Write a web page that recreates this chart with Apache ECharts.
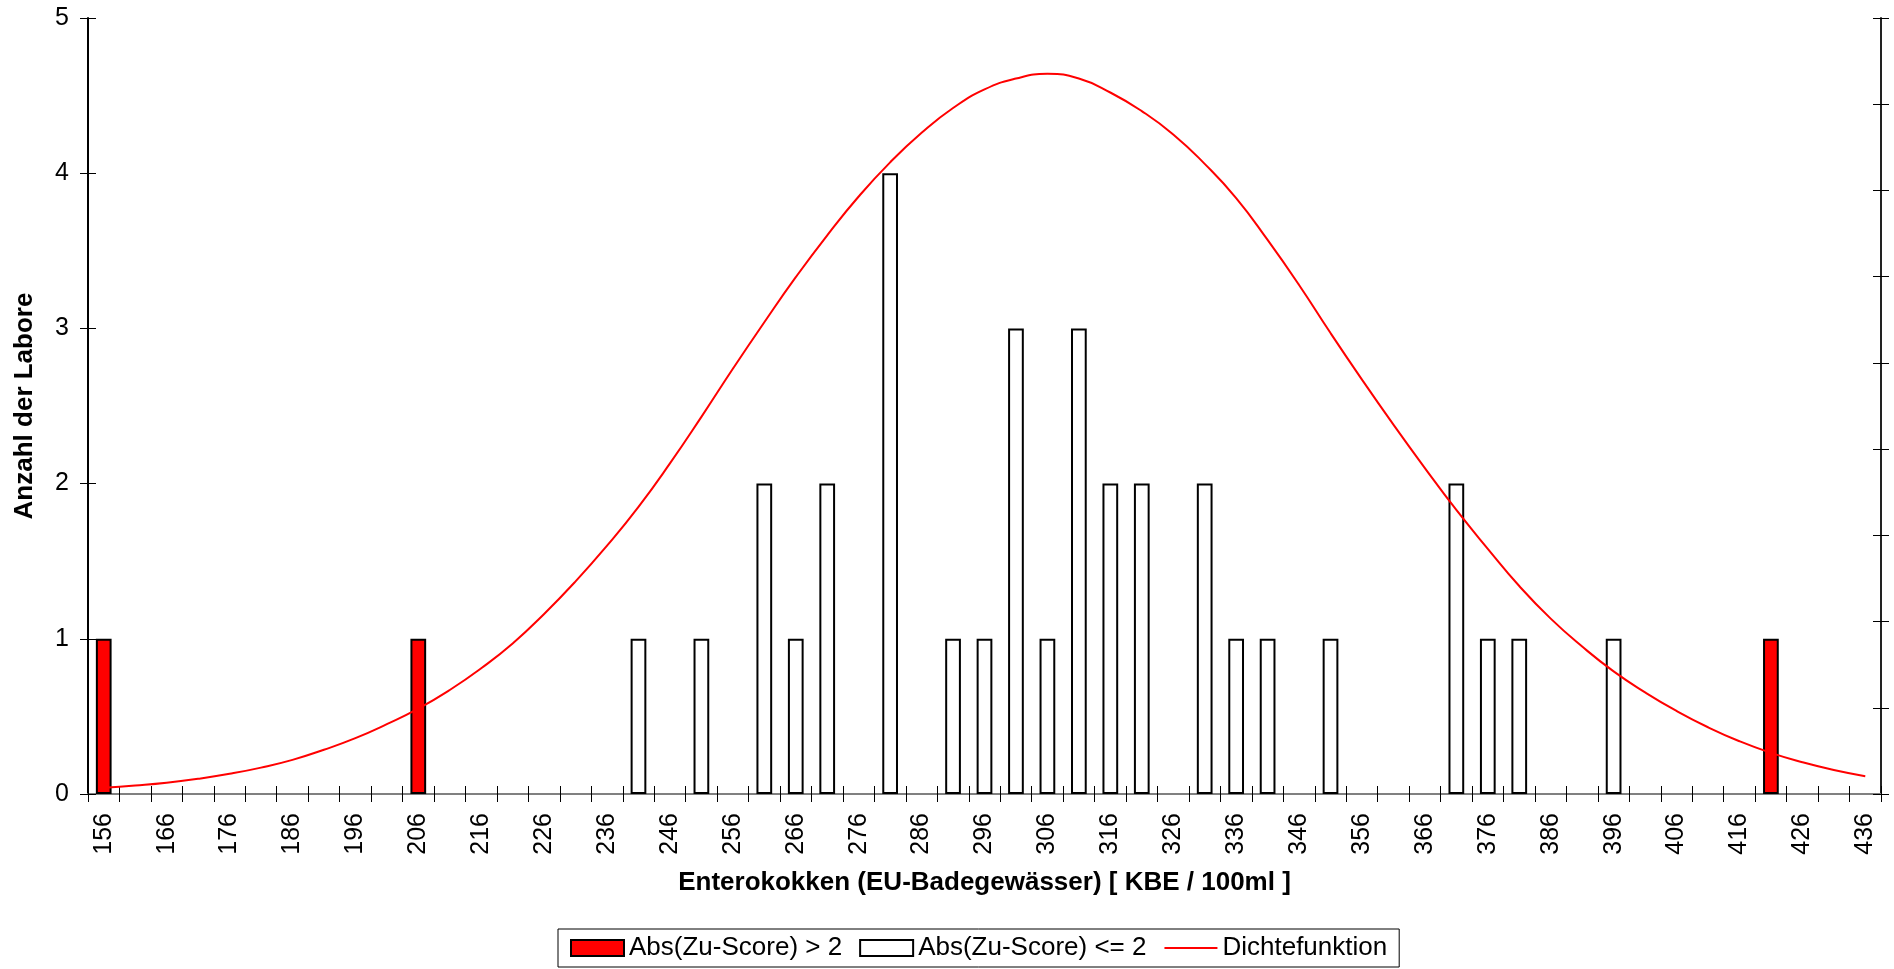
<!DOCTYPE html>
<html>
<head>
<meta charset="UTF-8">
<title>Enterokokken</title>
<script src="https://cdn.jsdelivr.net/npm/echarts@6/dist/echarts.min.js"></script>
<style>
  html, body { margin: 0; padding: 0; background: #fff; }
  #chart { width: 1894px; height: 969px; }
</style>
</head>
<body>
<div id="chart"></div>
<script>
// Klassen (KBE / 100ml), Schrittweite 5
var categories = ['156','161','166','171','176','181','186','191','196','201',
  '206','211','216','221','226','231','236','241','246','251',
  '256','261','266','271','276','281','286','291','296','301',
  '306','311','316','321','326','331','336','341','346','351',
  '356','361','366','371','376','381','386','391','396','401',
  '406','411','416','421','426','431','436'];

// Abs(Zu-Score) > 2
var outliers = [1,null,null,null,null,null,null,null,null,null,
  1,null,null,null,null,null,null,null,null,null,
  null,null,null,null,null,null,null,null,null,null,
  null,null,null,null,null,null,null,null,null,null,
  null,null,null,null,null,null,null,null,null,null,
  null,null,null,1,null,null,null];

// Abs(Zu-Score) <= 2
var inliers = [null,null,null,null,null,null,null,null,null,null,
  null,null,null,null,null,null,null,1,null,1,
  null,2,1,2,null,4,null,1,1,3,
  1,3,2,2,null,2,1,1,null,1,
  null,null,null,2,1,1,null,null,1,null,
  null,null,null,null,null,null,null];

// Dichtefunktion
var density = [0.04,0.055,0.073,0.098,0.13,0.17,0.22,0.285,0.36,0.45,
  0.55,0.67,0.81,0.97,1.16,1.37,1.60,1.85,2.13,2.43,
  2.74,3.04,3.33,3.60,3.85,4.07,4.26,4.42,4.54,4.61,
  4.64,4.61,4.52,4.40,4.25,4.06,3.84,3.57,3.28,2.97,
  2.67,2.38,2.10,1.83,1.58,1.34,1.13,0.95,0.79,0.655,
  0.535,0.43,0.34,0.265,0.205,0.155,0.115];

var font = "'Liberation Sans', Arial, sans-serif";
var myChart = echarts.init(document.getElementById('chart'));

var option = {
  animation: false,
  backgroundColor: '#fff',
  textStyle: { fontFamily: font, color: '#000' },
  grid: { left: 88, right: 13, top: 18, bottom: 175, containLabel: false },
  legend: {
    left: 558, top: 929,
    itemWidth: 53, itemHeight: 16, itemGap: 17,
    padding: [6, 12, 6, 12],
    borderColor: '#000', borderWidth: 1,
    textStyle: { fontSize: 26, color: '#000', fontFamily: font },
    data: [
      { name: 'Abs(Zu-Score) > 2', icon: 'rect' },
      { name: 'Abs(Zu-Score) <= 2', icon: 'rect' },
      { name: 'Dichtefunktion', itemStyle: { color: 'transparent', borderWidth: 0 } }
    ]
  },
  xAxis: [
    {
      type: 'category', position: 'bottom', data: categories, boundaryGap: true,
      axisLine: { lineStyle: { color: '#222', width: 2 } },
      axisTick: { show: true, interval: 0, length: 8, lineStyle: { color: '#000', width: 1 } },
      axisLabel: { interval: 1, rotate: 90, fontSize: 25, color: '#000', margin: 19, fontFamily: font },
      splitLine: { show: false },
      name: 'Enterokokken (EU-Badegewässer) [ KBE / 100ml ]',
      nameLocation: 'middle', nameGap: 76,
      nameTextStyle: { fontSize: 26, fontWeight: 'bold', color: '#000', fontFamily: font }
    },
    {
      type: 'category', position: 'bottom', data: categories, boundaryGap: true,
      axisLine: { show: false },
      axisTick: { show: true, inside: true, interval: 0, length: 8, lineStyle: { color: '#000', width: 1 } },
      axisLabel: { show: false }, splitLine: { show: false }
    },
    {
      type: 'category', position: 'top', data: categories, boundaryGap: true,
      axisLine: { lineStyle: { color: '#808080', width: 2 } },
      axisTick: { show: false }, axisLabel: { show: false }, splitLine: { show: false }
    }
  ],
  yAxis: [
    {
      type: 'value', position: 'left', min: 0, max: 5, interval: 1,
      axisLine: { show: true, lineStyle: { color: '#000', width: 2 } },
      axisTick: { show: true, length: 8, lineStyle: { color: '#000', width: 1 } },
      axisLabel: { fontSize: 25, color: '#000', margin: 19, fontFamily: font },
      splitLine: { show: false },
      name: 'Anzahl der Labore', nameLocation: 'middle', nameRotate: 90, nameGap: 50,
      nameTextStyle: { fontSize: 26, fontWeight: 'bold', color: '#000', fontFamily: font }
    },
    {
      type: 'value', position: 'left', min: 0, max: 5, interval: 1,
      axisLine: { show: false },
      axisTick: { show: true, inside: true, length: 8, lineStyle: { color: '#000', width: 1 } },
      axisLabel: { show: false }, splitLine: { show: false }
    },
    {
      type: 'value', position: 'right', min: 0, max: 9, interval: 1,
      axisLine: { show: true, lineStyle: { color: '#222', width: 2 } },
      axisTick: { show: true, length: 8, lineStyle: { color: '#000', width: 1 } },
      axisLabel: { show: false }, splitLine: { show: false }
    },
    {
      type: 'value', position: 'right', min: 0, max: 9, interval: 1,
      axisLine: { show: false },
      axisTick: { show: true, inside: true, length: 8, lineStyle: { color: '#000', width: 1 } },
      axisLabel: { show: false }, splitLine: { show: false }
    }
  ],
  series: [
    {
      name: 'Abs(Zu-Score) > 2', type: 'bar', xAxisIndex: 0, yAxisIndex: 0,
      data: outliers, barWidth: '50%', barGap: '-100%',
      itemStyle: { color: '#ff0000', borderColor: '#000', borderWidth: 2 }
    },
    {
      name: 'Abs(Zu-Score) <= 2', type: 'bar', xAxisIndex: 0, yAxisIndex: 0,
      data: inliers, barWidth: '50%', barGap: '-100%',
      itemStyle: { color: '#ffffff', borderColor: '#000', borderWidth: 2 }
    },
    {
      name: 'Dichtefunktion', type: 'line', xAxisIndex: 0, yAxisIndex: 0,
      data: density, smooth: true, symbol: 'none', z: 5,
      lineStyle: { color: '#ff0000', width: 2 },
      itemStyle: { color: '#ff0000' }
    }
  ]
};

myChart.setOption(option);
</script>
</body>
</html>
